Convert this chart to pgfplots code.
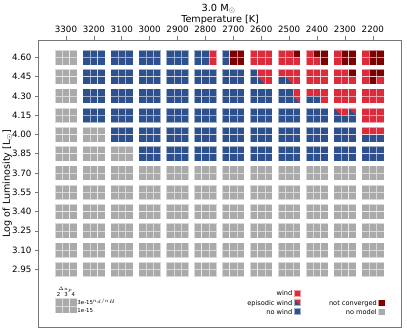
\documentclass[border=0pt]{standalone}
\usepackage{pgfplots}
\pgfplotsset{compat=1.18}
\usepackage{pgfplotstable}
\usepackage{fontspec}
\setmainfont{DejaVu Sans}
\definecolor{cblue}{RGB}{46,80,140}
\definecolor{cred}{RGB}{220,44,60}
\definecolor{cdark}{RGB}{125,0,0}
\definecolor{cgray}{RGB}{170,170,170}
\definecolor{frame}{RGB}{120,120,120}

\pgfdeclareplotmark{episq}{%
  \pgfpathrectangle{\pgfqpoint{-\pgfplotmarksize}{-\pgfplotmarksize}}{\pgfqpoint{2\pgfplotmarksize}{2\pgfplotmarksize}}%
  \pgfsetfillcolor{cblue}\pgfusepath{fill}%
  \pgfpathmoveto{\pgfqpoint{-\pgfplotmarksize}{\pgfplotmarksize}}%
  \pgfpathlineto{\pgfqpoint{\pgfplotmarksize}{\pgfplotmarksize}}%
  \pgfpathlineto{\pgfqpoint{\pgfplotmarksize}{-\pgfplotmarksize}}%
  \pgfpathclose
  \pgfsetfillcolor{cred}\pgfusepath{fill}%
  \pgfpathrectangle{\pgfqpoint{-\pgfplotmarksize}{-\pgfplotmarksize}}{\pgfqpoint{2\pgfplotmarksize}{2\pgfplotmarksize}}%
  \pgfusepath{stroke}%
}

% i: 0=3300 ... 11=2200 ; a = 3e-15 (top row), b = 1e-15 (bottom row); 2,3,4 = Delta u_p
% m = no model, n = no wind, w = wind, e = episodic wind, c = not converged
\pgfplotstableread{
i L a2 a3 a4 b2 b3 b4
0 4.60 m m m m m m
1 4.60 n n n n n n
2 4.60 n n n n n n
3 4.60 n n n n n n
4 4.60 n n n n n n
5 4.60 n n w n n w
6 4.60 n c c n c c
7 4.60 w w w w w w
8 4.60 w w c w w w
9 4.60 w c c w w c
10 4.60 w c c w c c
11 4.60 w c c w c c
0 4.45 m m m m m m
1 4.45 n n n n n n
2 4.45 n n n n n n
3 4.45 n n n n n n
4 4.45 n n n n n n
5 4.45 n n n n n n
6 4.45 n n n n n n
7 4.45 n w w n e w
8 4.45 w w w n e w
9 4.45 w w w w w w
10 4.45 w w c w w w
11 4.45 w c c w c w
0 4.30 m m m m m m
1 4.30 n n n n n n
2 4.30 n n n n n n
3 4.30 n n n n n n
4 4.30 n n n n n n
5 4.30 n n n n n n
6 4.30 n n n n n n
7 4.30 n n n n n n
8 4.30 n n w n n e
9 4.30 w w w n n w
10 4.30 w w w w w w
11 4.30 w w w w w w
0 4.15 m m m m m m
1 4.15 n n n n n n
2 4.15 n n n n n n
3 4.15 n n n n n n
4 4.15 n n n n n n
5 4.15 n n n n n n
6 4.15 n n n n n n
7 4.15 n n n n n n
8 4.15 n n n n n n
9 4.15 n n n n n n
10 4.15 e w e n n n
11 4.15 w w w w w w
0 4.00 m m m m m m
1 4.00 m m m m m m
2 4.00 n n n n n n
3 4.00 n n n n n n
4 4.00 n n n n n n
5 4.00 n n n n n n
6 4.00 n n n n n n
7 4.00 n n n n n n
8 4.00 n n n n n n
9 4.00 n n n n n n
10 4.00 n n n n n n
11 4.00 w w w n n n
0 3.85 m m m m m m
1 3.85 m m m m m m
2 3.85 m m m m m m
3 3.85 n n n n n n
4 3.85 n n n n n n
5 3.85 n n n n n n
6 3.85 n n n n n n
7 3.85 n n n n n n
8 3.85 n n n n n n
9 3.85 n n n n n n
10 3.85 n n n n n n
11 3.85 n n n n n n
0 3.70 m m m m m m
1 3.70 m m m m m m
2 3.70 m m m m m m
3 3.70 m m m m m m
4 3.70 m m m m m m
5 3.70 m m m m m m
6 3.70 m m m m m m
7 3.70 m m m m m m
8 3.70 m m m m m m
9 3.70 m m m m m m
10 3.70 m m m m m m
11 3.70 m m m m m m
0 3.55 m m m m m m
1 3.55 m m m m m m
2 3.55 m m m m m m
3 3.55 m m m m m m
4 3.55 m m m m m m
5 3.55 m m m m m m
6 3.55 m m m m m m
7 3.55 m m m m m m
8 3.55 m m m m m m
9 3.55 m m m m m m
10 3.55 m m m m m m
11 3.55 m m m m m m
0 3.40 m m m m m m
1 3.40 m m m m m m
2 3.40 m m m m m m
3 3.40 m m m m m m
4 3.40 m m m m m m
5 3.40 m m m m m m
6 3.40 m m m m m m
7 3.40 m m m m m m
8 3.40 m m m m m m
9 3.40 m m m m m m
10 3.40 m m m m m m
11 3.40 m m m m m m
0 3.25 m m m m m m
1 3.25 m m m m m m
2 3.25 m m m m m m
3 3.25 m m m m m m
4 3.25 m m m m m m
5 3.25 m m m m m m
6 3.25 m m m m m m
7 3.25 m m m m m m
8 3.25 m m m m m m
9 3.25 m m m m m m
10 3.25 m m m m m m
11 3.25 m m m m m m
0 3.10 m m m m m m
1 3.10 m m m m m m
2 3.10 m m m m m m
3 3.10 m m m m m m
4 3.10 m m m m m m
5 3.10 m m m m m m
6 3.10 m m m m m m
7 3.10 m m m m m m
8 3.10 m m m m m m
9 3.10 m m m m m m
10 3.10 m m m m m m
11 3.10 m m m m m m
0 2.95 m m m m m m
1 2.95 m m m m m m
2 2.95 m m m m m m
3 2.95 m m m m m m
4 2.95 m m m m m m
5 2.95 m m m m m m
6 2.95 m m m m m m
7 2.95 m m m m m m
8 2.95 m m m m m m
9 2.95 m m m m m m
10 2.95 m m m m m m
11 2.95 m m m m m m
}\cells

% legend swatches (x in column units, y in log L)
\pgfplotstableread{
x y k
8.293 2.764 w
8.293 2.693 e
8.293 2.623 n
11.32 2.688 c
11.32 2.618 m
}\legendsw

% mini key cell
\pgfplotstableread{
x y k
-0.2653 2.695 m
0 2.695 m
0.2653 2.695 m
-0.2653 2.637 m
0 2.637 m
0.2653 2.637 m
}\keycell

\begin{document}
\begin{tikzpicture}
\begin{axis}[name=ax, scale only axis, width=363.2pt, height=287pt,
  xmin=-0.986, xmax=12.036, ymin=2.501, ymax=4.736,
  xtick={0,1,2,3,4,5,6,7,8,9,10,11},
  xticklabels={3300,3200,3100,3000,2900,2800,2700,2600,2500,2400,2300,2200},
  ytick={2.95,3.10,3.25,3.40,3.55,3.70,3.85,4.00,4.15,4.30,4.45,4.60},
  yticklabels={2.95,3.10,3.25,3.40,3.55,3.70,3.85,4.00,4.15,4.30,4.45,4.60},
  xtick pos=right, xticklabel pos=right, ytick pos=left,
  tick align=outside, major tick length=3.5pt,
  tick style={color=frame, line width=0.6pt},
  axis line style={color=frame, line width=0.8pt},
  ticklabel style={font=\fontsize{8.7}{10}\selectfont},
  clip=false,
  only marks,
  scatter, point meta=explicit symbolic,
  scatter/classes={
    m={mark=square*, fill=cgray, draw=white, draw opacity=0.55, line width=0.6pt},
    n={mark=square*, fill=cblue, draw=white, draw opacity=0.55, line width=0.6pt},
    w={mark=square*, fill=cred, draw=white, draw opacity=0.55, line width=0.6pt},
    c={mark=square*, fill=cdark, draw=white, draw opacity=0.55, line width=0.6pt},
    e={mark=episq, draw=white, draw opacity=0.55, line width=0.6pt}},
  mark size=3.72pt]
\addplot table[x expr=\thisrow{i}-0.2653, y expr=\thisrow{L}+0.029, meta=a2] {\cells};
\addplot table[x expr=\thisrow{i}, y expr=\thisrow{L}+0.029, meta=a3] {\cells};
\addplot table[x expr=\thisrow{i}+0.2653, y expr=\thisrow{L}+0.029, meta=a4] {\cells};
\addplot table[x expr=\thisrow{i}-0.2653, y expr=\thisrow{L}-0.029, meta=b2] {\cells};
\addplot table[x expr=\thisrow{i}, y expr=\thisrow{L}-0.029, meta=b3] {\cells};
\addplot table[x expr=\thisrow{i}+0.2653, y expr=\thisrow{L}-0.029, meta=b4] {\cells};
\addplot table[x=x, y=y, meta=k] {\keycell};
\addplot[mark size=3.35pt] table[x=x, y=y, meta=k] {\legendsw};

\begin{scope}[every node/.style={inner sep=0pt, font=\fontsize{6.6}{7}\selectfont}]
\node[anchor=mid east] at (axis cs:8.12,2.764) {wind};
\node[anchor=mid east] at (axis cs:8.12,2.693) {episodic wind};
\node[anchor=mid east] at (axis cs:8.12,2.623) {no wind};
\node[anchor=mid east] at (axis cs:11.15,2.688) {not converged};
\node[anchor=mid east] at (axis cs:11.15,2.618) {no model};
\end{scope}
\begin{scope}[every node/.style={inner sep=0pt, font=\fontsize{5.4}{6}\selectfont}]
\node[anchor=center] at (axis cs:-0.2653,2.756) {2};
\node[anchor=center] at (axis cs:0,2.756) {3};
\node[anchor=center] at (axis cs:0.2653,2.756) {4};
\node[anchor=base] at (axis cs:-0.02,2.785) {$\Delta u_p$};
\node[anchor=mid west] at (axis cs:0.405,2.695) {3e-15};
\node[anchor=mid west] at (axis cs:0.405,2.637) {1e-15};
\node[anchor=mid west, font=\fontsize{4}{5}\selectfont] at (axis cs:0.95,2.717) {$n_d/n_H$};
\end{scope}
\end{axis}
\node[anchor=base, font=\fontsize{9.6}{11}\selectfont] at ([yshift=17pt]ax.north) {Temperature [K]};
\node[anchor=base, font=\fontsize{9.8}{11}\selectfont] at ([yshift=29pt,xshift=-1.5pt]ax.north) {3.0 M$_\odot$};
\node[rotate=90, anchor=base, font=\fontsize{9.6}{11}\selectfont] at ([xshift=-28.5pt]ax.west) {Log of Luminosity [L$_\odot$]};
\pgfresetboundingbox
\path[use as bounding box] ([xshift=-38.5pt,yshift=-6pt]ax.south west) rectangle ([xshift=5.3pt,yshift=40pt]ax.north east);
\end{tikzpicture}
\end{document}
